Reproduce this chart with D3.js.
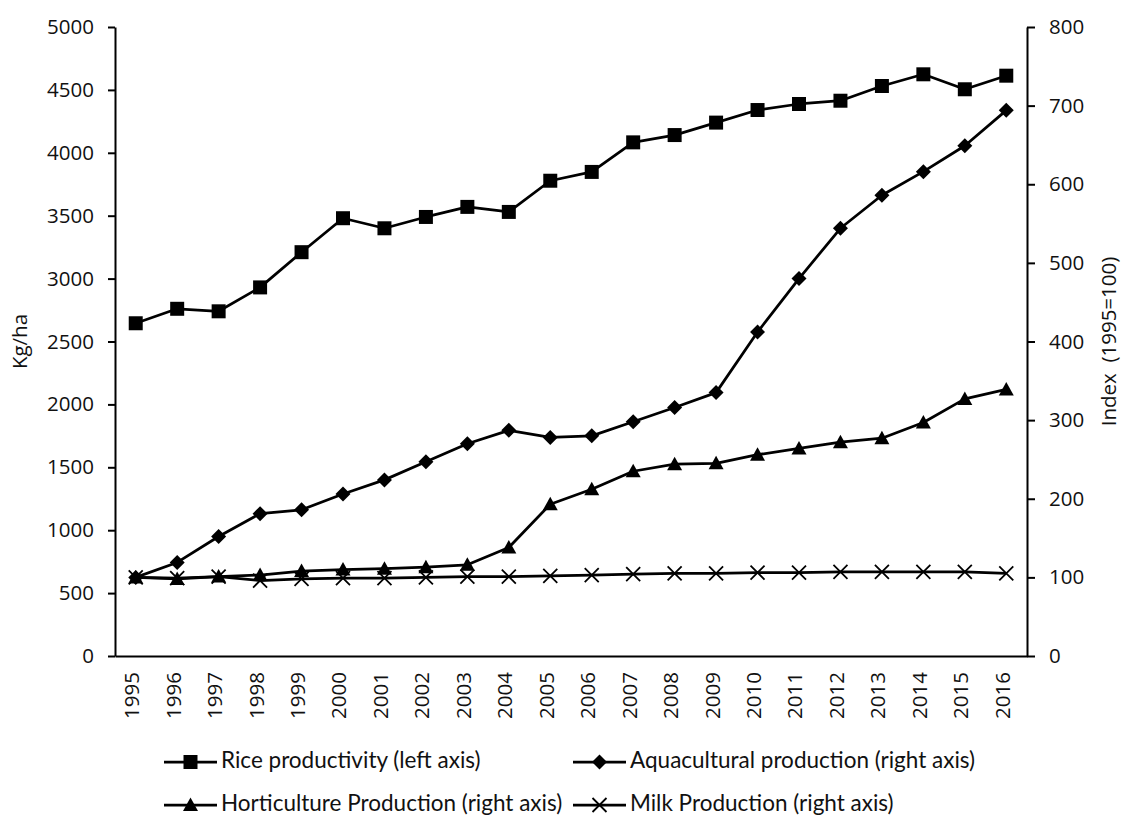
<!DOCTYPE html>
<html>
<head>
<meta charset="utf-8">
<script src="https://cdn.jsdelivr.net/npm/d3@7"></script>
<style>
  body { margin: 0; background: #fff; }
  svg { display: block; }
</style>
</head>
<body>
<div id="chart"></div>
<script>
// data
const years = ["1995","1996","1997","1998","1999","2000","2001","2002","2003","2004","2005",
  "2006","2007","2008","2009","2010","2011","2012","2013","2014","2015","2016"];
const rice = [2645, 2760, 2740, 2930, 3210, 3480, 3400, 3490, 3570, 3530, 3778,
  3848, 4083, 4141, 4240, 4340, 4388, 4414, 4531, 4624, 4505, 4613];
const aqua = [100, 119, 152, 181, 186, 206, 224, 247, 270, 287, 278,
  280, 298, 316, 335, 412, 480, 544, 586, 616, 649, 694];
const horti = [100, 98, 101, 103, 108, 110, 111, 113, 116, 138, 193,
  212, 235, 244, 245, 256, 264, 272, 277, 297, 327, 339];
const milk = [100, 99, 101, 96, 98, 99, 99, 100, 101, 101, 102,
  103, 104, 105, 105, 106, 106, 107, 107, 107, 107, 105];
const leftTicks = [0, 500, 1000, 1500, 2000, 2500, 3000, 3500, 4000, 4500, 5000];
const rightTicks = [0, 100, 200, 300, 400, 500, 600, 700, 800];

const series = [
  {name: "Rice productivity (left axis)", values: rice, axis: "left", marker: "square"},
  {name: "Aquacultural production (right axis)", values: aqua, axis: "right", marker: "diamond"},
  {name: "Horticulture Production (right axis)", values: horti, axis: "right", marker: "triangle"},
  {name: "Milk Production (right axis)", values: milk, axis: "right", marker: "cross"}
];

const W = 1124, H = 815;
let margin = {top: 27, right: 97, bottom: 159, left: 115},
    width = W - margin.left - margin.right,
    height = H - margin.top - margin.bottom;

const svg = d3.select("#chart")
  .append("svg")
  .attr("width", W)
  .attr("height", H);

const g = svg.append("g")
  .attr("transform", `translate(${margin.left},${margin.top})`);

const x = d3.scaleBand().domain(years).range([0, width]).padding(0);
const yL = d3.scaleLinear().domain([0, 5000]).range([height, 0]);
const yR = d3.scaleLinear().domain([0, 800]).range([height, 0]);

const tickFont = "'Open Sans', sans-serif";
const labelFont = "'Open Sans', sans-serif";

// left axis
g.append("g")
  .call(d3.axisLeft(yL).tickValues(leftTicks).tickFormat(d3.format("d"))
    .tickSize(7).tickPadding(14).tickSizeOuter(0))
  .call(a => a.select(".domain").attr("stroke-width", 2))
  .call(a => a.selectAll(".tick line").attr("stroke-width", 2))
  .call(a => a.selectAll("text").style("font-family", tickFont).style("font-size", "20.5px").attr("fill", "#111"));

// right axis
g.append("g")
  .attr("transform", `translate(${width},0)`)
  .call(d3.axisRight(yR).tickValues(rightTicks).tickFormat(d3.format("d"))
    .tickSize(8).tickPadding(14).tickSizeOuter(0))
  .call(a => a.select(".domain").attr("stroke-width", 2))
  .call(a => a.selectAll(".tick line").attr("stroke-width", 2))
  .call(a => a.selectAll("text").style("font-family", tickFont).style("font-size", "20.5px").attr("fill", "#111"));

// bottom axis (no ticks)
g.append("g")
  .attr("transform", `translate(0,${height})`)
  .call(d3.axisBottom(x).tickSize(0).tickPadding(16))
  .call(a => a.select(".domain").attr("stroke-width", 2))
  .call(a => a.selectAll("text")
    .style("font-family", tickFont).style("font-size", "20.5px").attr("fill", "#111")
    .attr("transform", "rotate(-90)")
    .attr("text-anchor", "end")
    .attr("dx", "-16px")
    .attr("dy", "-0.1em")
    .attr("x", 0).attr("y", 0)
    .attr("dominant-baseline", "middle"));

// axis titles
svg.append("text")
  .attr("transform", `translate(22,${margin.top + height / 2}) rotate(-90)`)
  .attr("text-anchor", "middle")
  .attr("dominant-baseline", "middle")
  .style("font-family", labelFont).style("font-size", "20.5px")
  .attr("fill", "#111")
  .text("Kg/ha");

svg.append("text")
  .attr("transform", `translate(1111,${margin.top + height / 2}) rotate(-90)`)
  .attr("text-anchor", "middle")
  .attr("dominant-baseline", "middle")
  .style("font-family", labelFont).style("font-size", "20.5px")
  .style("white-space", "pre")
  .attr("fill", "#111")
  .text("Index  (1995=100)");

// marker shapes
function markerPath(type) {
  const p = d3.path();
  if (type === "square") {
    p.rect(-7, -7, 14, 14);
  } else if (type === "diamond") {
    p.moveTo(0, -7.5); p.lineTo(7.5, 0); p.lineTo(0, 7.5); p.lineTo(-7.5, 0); p.closePath();
  } else if (type === "triangle") {
    p.moveTo(0, -7.5); p.lineTo(7.5, 6); p.lineTo(-7.5, 6); p.closePath();
  } else {
    p.moveTo(-7, -7); p.lineTo(7, 7); p.moveTo(-7, 7); p.lineTo(7, -7);
  }
  return p.toString();
}

function drawMarker(sel, type) {
  sel.attr("d", markerPath(type))
    .attr("fill", type === "cross" ? "none" : "#000")
    .attr("stroke", "#000")
    .attr("stroke-width", type === "cross" ? 1.8 : 0);
}

const cx = d => x(d) + x.bandwidth() / 2;

series.forEach(s => {
  const y = s.axis === "left" ? yL : yR;
  const pts = years.map((yr, i) => [yr, s.values[i]]);
  g.append("path")
    .datum(pts)
    .attr("fill", "none")
    .attr("stroke", "#000")
    .attr("stroke-width", 2.75)
    .attr("stroke-linejoin", "round")
    .attr("d", d3.line().x(d => cx(d[0])).y(d => y(d[1])));

  g.selectAll(null)
    .data(pts)
    .join("path")
    .attr("transform", d => `translate(${cx(d[0])},${y(d[1])})`)
    .call(drawMarker, s.marker);
});

// legend
const legendPos = [
  {x: 164, y: 762}, {x: 573, y: 762},
  {x: 164, y: 805}, {x: 573, y: 805}
];
const legend = svg.selectAll(".legend")
  .data(series)
  .join("g")
  .attr("class", "legend")
  .attr("transform", (d, i) => `translate(${legendPos[i].x},${legendPos[i].y})`);

legend.append("line")
  .attr("x1", 0).attr("x2", 53)
  .attr("stroke", "#000").attr("stroke-width", 2.75);

legend.append("path")
  .attr("transform", "translate(26.5,0)")
  .each(function (d) { d3.select(this).call(drawMarker, d.marker); });

legend.append("text")
  .attr("x", 57)
  .attr("dominant-baseline", "middle")
  .style("font-family", "Lato, sans-serif")
  .style("font-size", "22.5px")
  .attr("fill", "#111")
  .text(d => d.name);
</script>
</body>
</html>
